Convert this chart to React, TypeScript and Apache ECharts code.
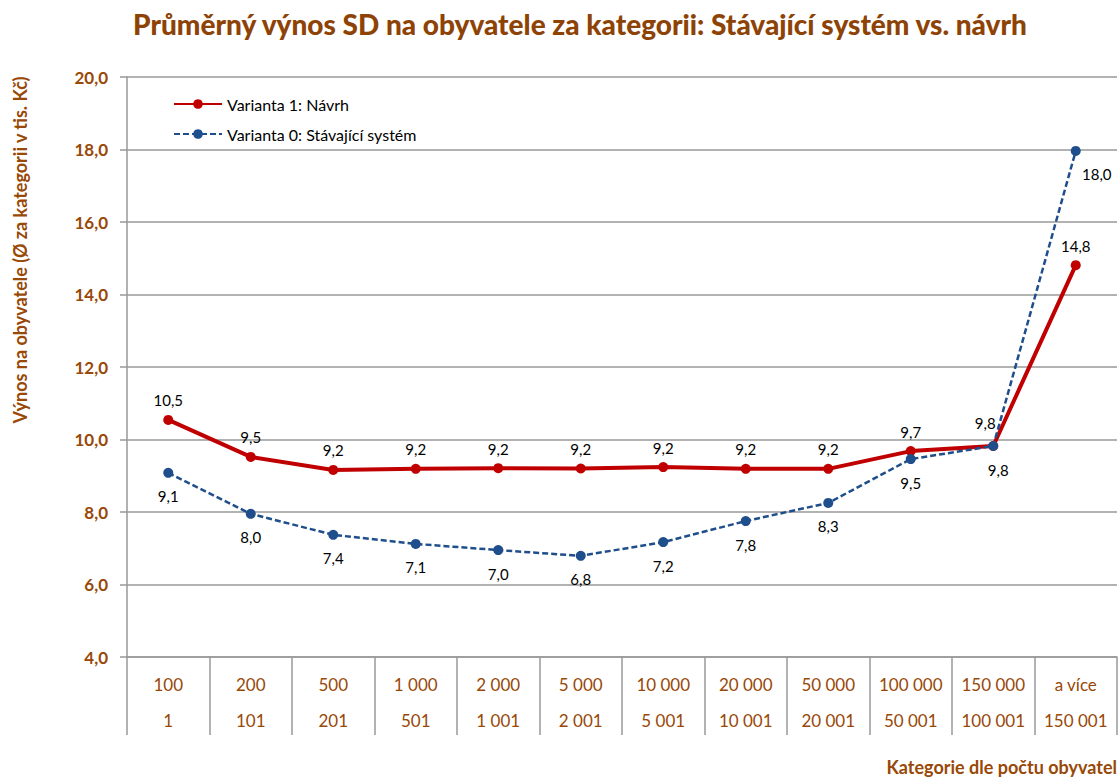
import React, { useEffect, useRef } from "react";
import * as echarts from "echarts";

const topLabels = ["100", "200", "500", "1 000", "2 000", "5 000", "10 000", "20 000", "50 000", "100 000", "150 000", "a více"];
const bottomLabels = ["1", "101", "201", "501", "1 001", "2 001", "5 001", "10 001", "20 001", "50 001", "100 001", "150 001"];
const variant1 = [10.54, 9.52, 9.16, 9.19, 9.21, 9.2, 9.24, 9.19, 9.19, 9.68, 9.82, 14.81];
const variant0 = [9.08, 7.95, 7.37, 7.12, 6.95, 6.79, 7.17, 7.75, 8.25, 9.46, 9.82, 17.96];
const yTicks = [4, 6, 8, 10, 12, 14, 16, 18, 20];

const BROWN = "#984807";
const FONT = "Lato, 'Open Sans', sans-serif";

const fmt = (v: number) => v.toFixed(1).replace(".", ",");

export default function App() {
  const ref = useRef<HTMLDivElement>(null);
  useEffect(() => {
    if (!ref.current) return;
    const chart = echarts.init(ref.current, undefined, { renderer: "svg" });
    const categories = topLabels.map((t, i) => t + "\n" + bottomLabels[i]);

    const redData = variant1.map((v, i) => {
      const d: any = { value: v };
      if (i === 10) d.label = { position: "top", offset: [-8, -4] };
      return d;
    });
    const blueData = variant0.map((v, i) => {
      const d: any = { value: v };
      if (i === 10) d.label = { position: "bottom", offset: [5, 0] };
      if (i === 11) d.label = { position: "bottom", offset: [21, 0] };
      return d;
    });

    chart.setOption({
      animation: false,
      backgroundColor: "#ffffff",
      textStyle: { fontFamily: FONT },
      title: {
        text: "Průměrný výnos SD na obyvatele za kategorii: Stávající systém vs. návrh",
        left: 575,
        top: 5,
        textAlign: "center",
        textStyle: { color: "#8E4306", fontSize: 28, fontWeight: 900, fontFamily: FONT },
      },
      legend: {
        left: 168,
        top: 91,
        orient: "vertical",
        itemWidth: 48,
        itemHeight: 12,
        itemGap: 14,
        textStyle: { color: "#000", fontSize: 16, fontFamily: FONT },
        data: ["Variant 1", "Variant 0"],
        formatter: (n: string) => (n === "Variant 1" ? "Varianta 1: Návrh" : "Varianta 0: Stávající systém"),
      },
      grid: { left: 127, right: 2, top: 77, bottom: 121, containLabel: false },
      xAxis: {
        type: "category",
        data: categories,
        boundaryGap: true,
        name: "Kategorie dle počtu obyvatel",
        nameLocation: "end",
        nameGap: 0,
        nameTextStyle: {
          color: BROWN,
          fontSize: 18,
          fontWeight: "bold",
          align: "right",
          verticalAlign: "top",
          padding: [101, 0, 0, 0],
        },
        axisLine: { lineStyle: { color: "#999", width: 1.5 } },
        axisTick: { show: true, interval: 0, length: 78, lineStyle: { color: "#999", width: 1.5 } },
        axisLabel: {
          interval: 0,
          margin: 9,
          color: BROWN,
          fontSize: 17,
          lineHeight: 36,
          fontFamily: FONT,
        },
      },
      yAxis: {
        type: "value",
        min: 4,
        max: 20,
        interval: 2,
        axisLine: { show: true, lineStyle: { color: "#999", width: 1.5 } },
        axisTick: { show: true, length: 7, lineStyle: { color: "#999", width: 1.5 } },
        axisLabel: {
          margin: 19,
          color: BROWN,
          fontSize: 17,
          fontWeight: "bold",
          fontFamily: FONT,
          formatter: (v: number) => (yTicks.includes(v) ? fmt(v) : ""),
        },
        splitLine: { show: true, lineStyle: { color: "#999", width: 1.5 } },
      },
      graphic: [
        {
          type: "text",
          x: 20,
          y: 250,
          rotation: Math.PI / 2,
          style: {
            text: "Výnos na obyvatele (Ø za kategorii v tis. Kč)",
            fill: BROWN,
            font: "bold 18px " + FONT,
            align: "center",
            verticalAlign: "middle",
          },
        },
      ],
      series: [
        {
          name: "Variant 1",
          type: "line",
          data: redData,
          z: 3,
          symbol: "circle",
          symbolSize: 10,
          lineStyle: { color: "#C00000", width: 4 },
          itemStyle: { color: "#C00000" },
          label: {
            show: true,
            position: "top",
            distance: 7,
            color: "#000",
            fontSize: 15,
            fontFamily: FONT,
            formatter: (p: any) => fmt(p.value),
          },
        },
        {
          name: "Variant 0",
          type: "line",
          data: blueData,
          z: 4,
          symbol: "circle",
          symbolSize: 10,
          lineStyle: { color: "#1F4E8C", width: 2.5, type: [6, 3] },
          itemStyle: { color: "#1F4E8C" },
          label: {
            show: true,
            position: "bottom",
            distance: 11,
            color: "#000",
            fontSize: 15,
            fontFamily: FONT,
            formatter: (p: any) => fmt(p.value),
          },
        },
      ],
    });
    return () => chart.dispose();
  }, []);
  return (
    <div
      ref={ref}
      style={{ position: "fixed", left: 0, top: 0, width: 1120, height: 778, background: "#fff" }}
    />
  );
}
